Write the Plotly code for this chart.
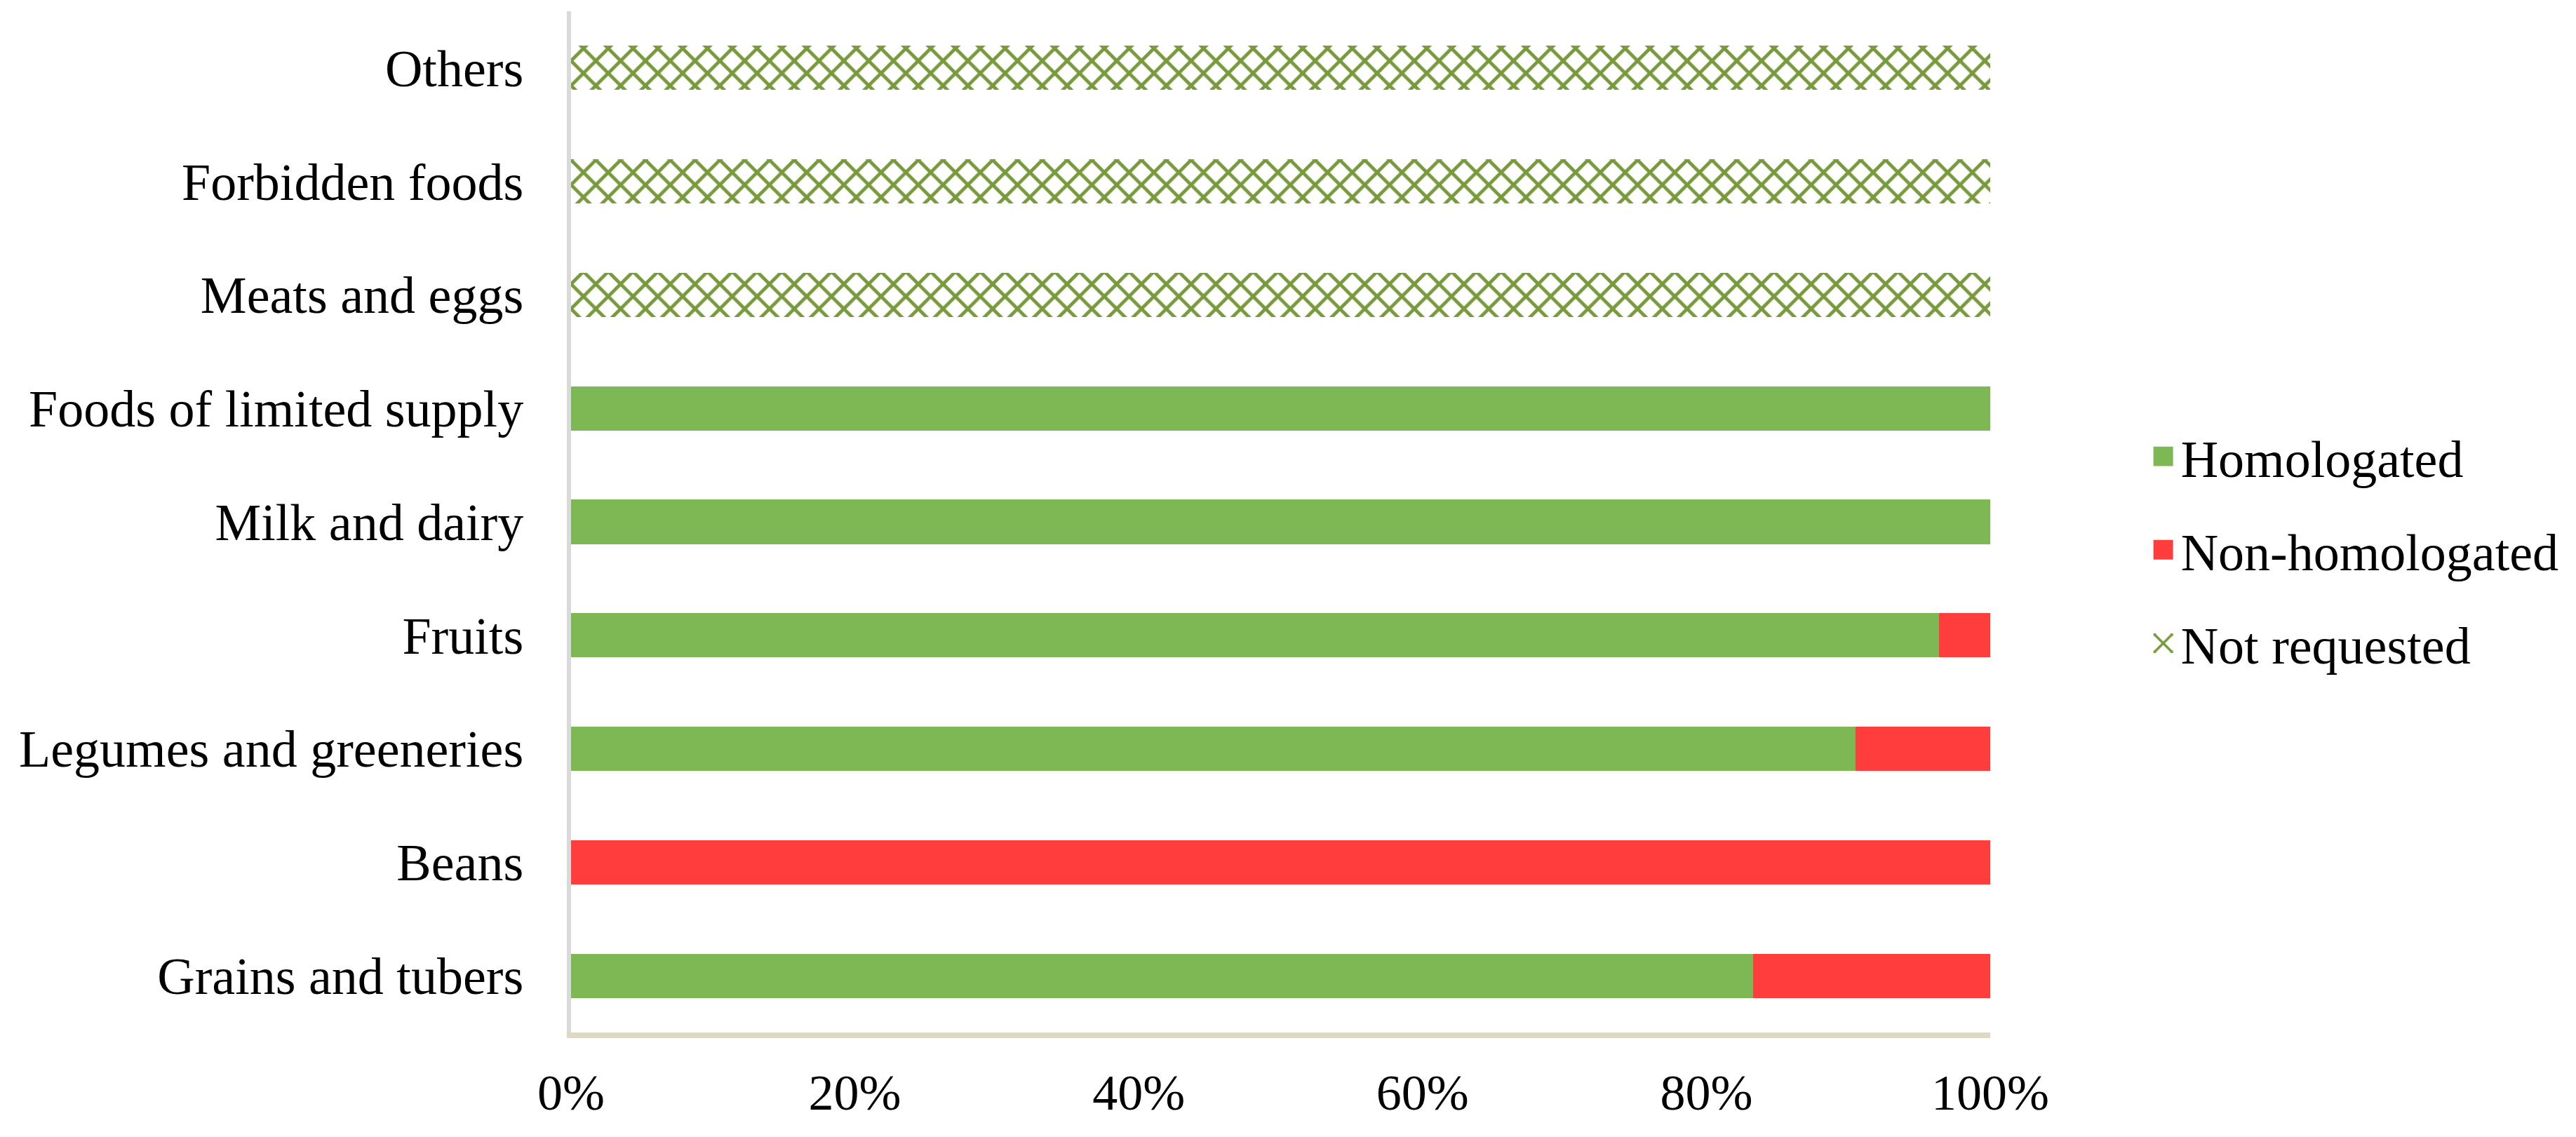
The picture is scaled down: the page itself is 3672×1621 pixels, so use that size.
import plotly.graph_objects as go

categories = ["Grains and tubers", "Beans", "Legumes and greeneries", "Fruits",
              "Milk and dairy", "Foods of limited supply", "Meats and eggs",
              "Forbidden foods", "Others"]
homologated = [83.3, 0, 90.5, 96.4, 100, 100, 0, 0, 0]
non_homologated = [16.7, 100, 9.5, 3.6, 0, 0, 0, 0, 0]
not_requested = [0, 0, 0, 0, 0, 0, 100, 100, 100]
x_ticks = [0, 20, 40, 60, 80, 100]
x_tick_labels = ["0%", "20%", "40%", "60%", "80%", "100%"]

GREEN = "#7EB854"
RED = "#FF3D3D"
OLIVE = "#789A3C"
FONT = "Liberation Serif"

fig = go.Figure()
fig.add_trace(go.Bar(y=categories, x=homologated, orientation="h", name="Homologated",
                     marker=dict(color=GREEN, line=dict(width=0)), legendgroup="a"))
fig.add_trace(go.Bar(y=categories, x=non_homologated, orientation="h", name="Non-homologated",
                     marker=dict(color=RED, line=dict(width=0)), legendgroup="b"))
fig.add_trace(go.Bar(y=categories, x=not_requested, orientation="h", name="Not requested",
                     marker=dict(color="white", line=dict(width=0),
                                 pattern=dict(shape="x", fgcolor=OLIVE, bgcolor="white",
                                              size=25, solidity=0.35, fillmode="replace")),
                     legendgroup="c"))

fig.update_layout(
    barmode="stack",
    bargap=0.61,
    width=3672, height=1621,
    margin=dict(l=814, r=835, t=16, b=149, autoexpand=False),
    paper_bgcolor="white", plot_bgcolor="white",
    font=dict(family=FONT, size=74, color="black"),
    legend=dict(x=1.1145, xanchor="left", y=0.4725, yanchor="middle",
                traceorder="grouped", tracegroupgap=34,
                font=dict(family=FONT, size=74, color="black"),
                bgcolor="rgba(0,0,0,0)"),
    showlegend=True,
)
fig.update_xaxes(range=[0, 100], tickvals=x_ticks, ticktext=x_tick_labels,
                 showgrid=False, zeroline=False, showline=True, automargin=False,
                 linecolor="#DDD9C3", linewidth=8, ticks="",
                 tickfont=dict(family=FONT, size=72, color="black"),
                 ticklabelstandoff=16)
fig.update_yaxes(range=[-0.5, 8.5], showgrid=False, zeroline=False, showline=True,
                 automargin=False,
                 linecolor="#D9D9D9", linewidth=6, ticks="",
                 tickfont=dict(family=FONT, size=74, color="black"),
                 ticklabelstandoff=47)

post_js = """
(function(){
  document.documentElement.style.margin = '0';
  document.documentElement.style.padding = '0';
  document.body.style.margin = '0';
  document.body.style.padding = '0';
  document.body.style.overflow = 'hidden';
  var gd = document.querySelector('.plotly-graph-div');
  function enlarge(){
    gd.querySelectorAll('.legend .legendpoints path').forEach(function(p){
      p.setAttribute('transform', 'translate(15,0) scale(2.33)');
    });
  }
  enlarge();
  if (gd.on) { gd.on('plotly_afterplot', enlarge); }
})();
"""

fig.write_html("out.html", config={"displayModeBar": False}, post_script=post_js)
